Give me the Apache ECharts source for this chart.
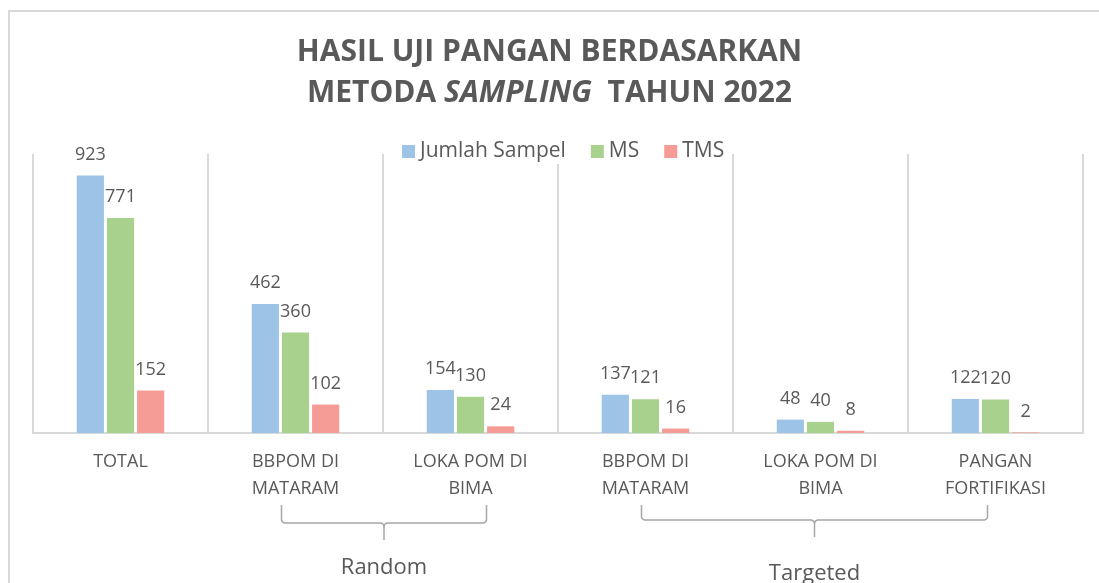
<!DOCTYPE html>
<html>
<head>
<meta charset="utf-8">
<title>Hasil Uji Pangan 2022</title>
<script src="https://cdn.jsdelivr.net/npm/echarts@6/dist/echarts.min.js"></script>
<style>
  html, body { margin: 0; padding: 0; background: #fff; }
  #chart { width: 1099px; height: 583px; }
</style>
</head>
<body>
<div id="chart"></div>
<script>
// categories (first level) and groups (second level)
const categories = [
  "TOTAL",
  "BBPOM DI\nMATARAM",
  "LOKA POM DI\nBIMA",
  "BBPOM DI\nMATARAM",
  "LOKA POM DI\nBIMA",
  "PANGAN\nFORTIFIKASI",
];
const groupNames = ["Random", "Targeted"];
const groupStart = [1, 3];
const groupEnd = [2, 5];

// series values
const jumlahSampel = [923, 462, 154, 137, 48, 122];
const msValues = [771, 360, 130, 121, 40, 120];
const tmsValues = [152, 102, 24, 16, 8, 2];

const textColor = "#595959";
const chart = echarts.init(document.getElementById("chart"), null, { renderer: "canvas" });

function barSeries(name, data, color) {
  return {
    name: name,
    type: "bar",
    data: data,
    barGap: "11%",
    barCategoryGap: "50%",
    itemStyle: { color: color },
    label: {
      show: true,
      position: "top",
      distance: 12,
      color: textColor,
      fontSize: 18,
    },
  };
}

chart.setOption({
  animation: false,
  textStyle: { fontFamily: "Open Sans" },
  title: {
    left: "center",
    top: 27,
    text: "{b|HASIL UJI PANGAN BERDASARKAN}\n{b|METODA }{i|SAMPLING}{b|  TAHUN 2022}",
    textStyle: {
      rich: {
        b: { fontSize: 30, fontWeight: "bold", color: textColor, lineHeight: 41, fontFamily: "Open Sans" },
        i: { fontSize: 30, fontWeight: "bold", fontStyle: "italic", color: textColor, lineHeight: 41, fontFamily: "Open Sans" },
      },
    },
  },
  legend: {
    left: 397,
    top: 139,
    icon: "rect",
    itemWidth: 13,
    itemHeight: 13,
    itemGap: 25,
    padding: [2, 5],
    backgroundColor: "#fff",
    textStyle: { color: textColor, fontSize: 21 },
    data: ["Jumlah Sampel", "MS", "TMS"],
  },
  grid: { left: 33, right: 16, top: 154, bottom: 150 },
  xAxis: {
    type: "category",
    data: categories,
    axisTick: { show: false },
    axisLine: { lineStyle: { color: "#d9d9d9", width: 2 } },
    splitLine: { show: true, interval: 0, lineStyle: { color: "#d9d9d9", width: 2 } },
    axisLabel: {
      interval: 0,
      color: textColor,
      fontSize: 18,
      lineHeight: 27,
      margin: 15,
    },
  },
  yAxis: {
    type: "value",
    min: 0,
    max: 1000,
    show: false,
  },
  series: [
    barSeries("Jumlah Sampel", jumlahSampel, "#9dc3e6"),
    barSeries("MS", msValues, "#a9d18e"),
    barSeries("TMS", tmsValues, "#f69c96"),
  ],
});

// chart border + group brackets under the category labels
function drawExtras() {
  const graphics = [
    {
      type: "rect",
      shape: { x: 9, y: 11, width: 1200, height: 800 },
      style: { fill: null, stroke: "#d9d9d9", lineWidth: 2 },
      silent: true,
    },
  ];
  // bracket ends sit a little off the category centres in the original
  const insets = [[-14, 16], [-4, -8]];
  const bracketY = [523, 520];
  const labelY = [568, 574];
  groupNames.forEach((name, i) => {
    const x1 = chart.convertToPixel({ xAxisIndex: 0 }, groupStart[i]) + insets[i][0];
    const x2 = chart.convertToPixel({ xAxisIndex: 0 }, groupEnd[i]) + insets[i][1];
    const mid = (x1 + x2) / 2;
    const top = 505;
    const y = bracketY[i];
    const lineStyle = { fill: null, stroke: "#a6a6a6", lineWidth: 1.5 };
    graphics.push({
      type: "polyline",
      shape: {
        points: [
          [x1, top], [x1, y - 3], [x1 + 1, y - 1], [x1 + 3, y],
          [mid - 3, y], [mid - 1, y + 1], [mid, y + 3],
          [mid + 1, y + 1], [mid + 3, y],
          [x2 - 3, y], [x2 - 1, y - 1], [x2, y - 3], [x2, top],
        ],
      },
      style: lineStyle,
      silent: true,
    });
    graphics.push({
      type: "line",
      shape: { x1: mid, y1: y + 3, x2: mid, y2: y + 17 },
      style: lineStyle,
      silent: true,
    });
    graphics.push({
      type: "text",
      x: mid,
      y: labelY[i],
      style: {
        text: name,
        fill: textColor,
        fontSize: 22,
        fontFamily: "Open Sans",
        align: "center",
        verticalAlign: "middle",
      },
      silent: true,
    });
  });
  chart.setOption({ graphic: graphics });
}
drawExtras();
</script>
</body>
</html>
